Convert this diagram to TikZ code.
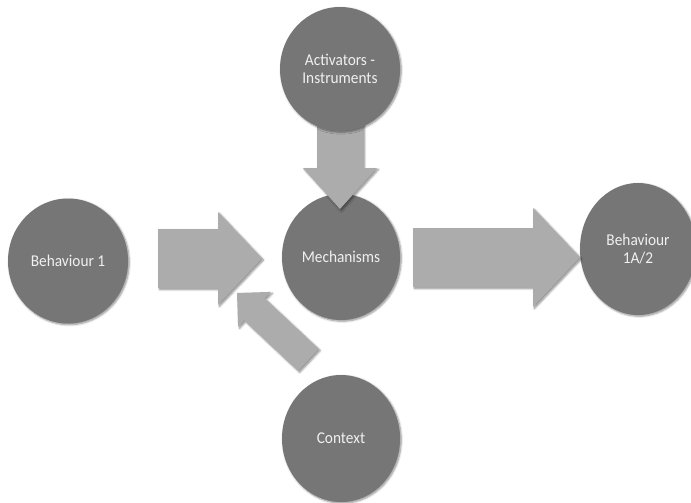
\documentclass[tikz,border=0pt]{standalone}
\usepackage{fontspec}
\setmainfont{Carlito}
\newfontfamily\discfont[FakeStretch=0.93]{Carlito}
\usetikzlibrary{calc,shapes.geometric,shadows.blur}

\definecolor{discgray}{RGB}{118,118,118}
\definecolor{arrowgray}{RGB}{172,172,172}
\definecolor{labelwhite}{RGB}{240,240,240}

\tikzset{
  disc/.style={ellipse, fill=discgray, inner sep=0pt, align=center,
    text=labelwhite, font=\discfont\fontsize{16.5}{18}\selectfont,
    blur shadow={shadow xshift=1.2pt, shadow yshift=-1.2pt,
      shadow blur radius=2pt, shadow blur steps=6, shadow opacity=45}},
  blockarrow/.style={fill=arrowgray,
    blur shadow={shadow xshift=1.5pt, shadow yshift=-1.5pt,
      shadow blur radius=2pt, shadow blur steps=6, shadow opacity=45}}
}

% #1 name, #2 tail, #3 tip, #4 shaft half width, #5 head half width, #6 head length
\newcommand{\blockarrow}[6]{%
  \coordinate (#1-neck) at ($(#3)!#6!(#2)$);
  \path[blockarrow]
    ($(#2)!#4!90:(#3)$) --
    ($(#1-neck)!#4!-90:(#2)$) --
    ($(#1-neck)!#5!-90:(#2)$) --
    (#3) --
    ($(#1-neck)!#5!90:(#2)$) --
    ($(#1-neck)!#4!90:(#2)$) --
    ($(#2)!#4!-90:(#3)$) -- cycle;
}

\begin{document}
\begin{tikzpicture}[x=1pt,y=-1pt]
  \useasboundingbox (0,0) rectangle (691,503);
  \clip (0,0) rectangle (691,503);

  % discs below the arrows
  \node[disc, minimum width=120pt, minimum height=125pt] (b1) at (68,261) {Behaviour 1};
  \node[disc, minimum width=118pt, minimum height=126pt] (mech) at (341,257) {Mechanisms};
  \node[disc, minimum width=116pt, minimum height=132pt] (b2) at (638,249) {Behaviour\\1A/2};
  \node[disc, minimum width=118pt, minimum height=127pt] (ctx) at (341,438.5) {Context};

  % arrow end points
  \coordinate (b1-out) at (158,258.5);
  \coordinate (mech-in) at (262,258.5);
  \coordinate (mech-out) at (413,257.5);
  \coordinate (b2-in) at (580,257.5);
  \coordinate (act-out) at (340,120);
  \coordinate (mech-top) at (340,209);
  \coordinate (ctx-out) at (308.5,360);
  \coordinate (mech-low) at (237,293);

  \blockarrow{a1}{b1-out}{mech-in}{29.5pt}{46.5pt}{44pt}
  \blockarrow{a2}{mech-out}{b2-in}{29.5pt}{49.5pt}{47pt}
  \blockarrow{a3}{act-out}{mech-top}{23pt}{37pt}{41pt}
  \blockarrow{a4}{ctx-out}{mech-low}{15pt}{24pt}{24pt}

  % top disc covers the arrow shaft
  \node[disc, minimum width=120pt, minimum height=124pt] (act) at (340,69) {Activators -\\Instruments};
\end{tikzpicture}
\end{document}
